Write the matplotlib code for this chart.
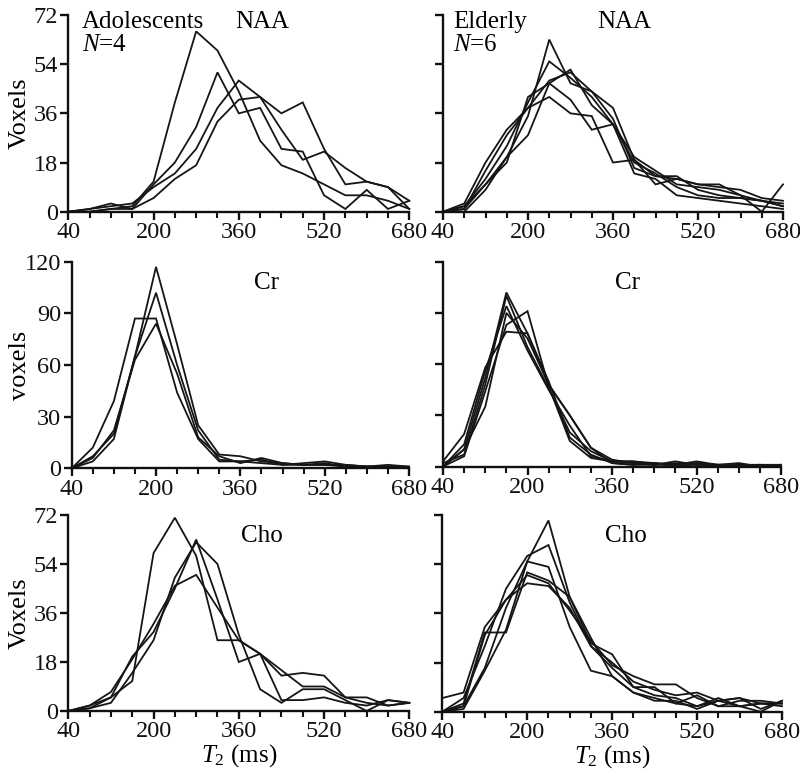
import matplotlib
matplotlib.use("Agg")
import matplotlib.pyplot as plt
from matplotlib.ticker import MultipleLocator, FixedLocator

plt.rcParams['font.family'] = ['Liberation Serif', 'DejaVu Serif']
plt.rcParams['mathtext.fontset'] = 'custom'
plt.rcParams['mathtext.rm'] = 'Liberation Serif'
plt.rcParams['mathtext.it'] = 'Liberation Serif:italic'

# T2 bins (ms)
t2 = [40, 80, 120, 160, 200, 240, 280, 320, 360, 400, 440, 480, 520, 560, 600, 640, 680]
x_major = [40, 200, 360, 520, 680]

# Adolescents NAA (N=4)
ado_naa_1 = [0, 0, 1, 2, 11, 40, 66, 59, 44, 26, 17, 14, 10, 6, 6, 4, 1]
ado_naa_2 = [0, 1, 3, 1, 10, 18, 31, 51, 36, 38, 23, 22, 6, 1, 8, 1, 4]
ado_naa_3 = [0, 1, 2, 3, 9, 14, 23, 38, 48, 42, 36, 40, 23, 10, 11, 9, 4]
ado_naa_4 = [0, 0, 1, 1, 5, 12, 17, 33, 41, 42, 30, 19, 22, 16, 11, 9, 1]

# Elderly NAA (N=6)
eld_naa_1 = [0, 1, 10, 20, 35, 63, 47, 44, 34, 16, 13, 12, 10, 9, 8, 5, 4]
eld_naa_2 = [0, 2, 12, 24, 40, 55, 49, 42, 32, 20, 15, 10, 9, 8, 6, 4, 2]
eld_naa_3 = [0, 1, 15, 28, 38, 48, 51, 44, 38, 19, 13, 13, 8, 6, 5, 4, 3]
eld_naa_4 = [0, 0, 8, 20, 28, 47, 52, 39, 32, 18, 14, 9, 6, 5, 5, 4, 2]
eld_naa_5 = [0, 3, 18, 30, 38, 42, 36, 35, 18, 19, 10, 12, 10, 10, 6, 0, 10]
eld_naa_6 = [0, 2, 10, 18, 42, 47, 41, 30, 32, 14, 12, 6, 5, 4, 3, 2, 1]

# Adolescents Cr
ado_cr_1 = [0, 7, 20, 65, 117, 72, 25, 8, 7, 4, 3, 2, 2, 1, 1, 1, 0]
ado_cr_2 = [0, 4, 17, 65, 102, 60, 22, 5, 4, 5, 2, 3, 4, 2, 1, 1, 1]
ado_cr_3 = [0, 12, 39, 87, 87, 44, 17, 4, 4, 3, 2, 2, 2, 2, 1, 1, 0]
ado_cr_4 = [0, 6, 22, 63, 84, 55, 18, 7, 3, 6, 3, 2, 3, 1, 1, 2, 1]

# Elderly Cr
eld_cr_1 = [0, 10, 52, 102, 78, 48, 30, 11, 4, 2, 2, 1, 2, 0, 1, 0, 0]
eld_cr_2 = [2, 7, 48, 100, 70, 46, 20, 9, 3, 3, 2, 1, 3, 1, 1, 1, 1]
eld_cr_3 = [0, 13, 56, 94, 68, 45, 24, 6, 3, 2, 1, 2, 1, 1, 2, 0, 0]
eld_cr_4 = [0, 6, 44, 83, 91, 47, 15, 5, 3, 3, 1, 3, 1, 1, 0, 1, 0]
eld_cr_5 = [3, 19, 58, 79, 78, 50, 17, 7, 2, 1, 2, 0, 2, 1, 1, 0, 1]
eld_cr_6 = [0, 10, 35, 90, 75, 48, 30, 11, 2, 1, 1, 1, 0, 0, 0, 1, 0]

# Adolescents Cho
ado_cho_1 = [0, 1, 5, 11, 58, 71, 57, 26, 26, 21, 13, 14, 13, 5, 5, 2, 3]
ado_cho_2 = [0, 1, 3, 14, 26, 49, 62, 54, 28, 8, 3, 8, 8, 4, 0, 4, 3]
ado_cho_3 = [0, 2, 5, 20, 29, 45, 63, 41, 18, 21, 4, 4, 5, 3, 2, 4, 3]
ado_cho_4 = [0, 2, 7, 19, 32, 46, 50, 38, 26, 21, 15, 9, 9, 5, 3, 2, 3]

# Elderly Cho
eld_cho_1 = [0, 2, 16, 38, 55, 70, 42, 27, 13, 7, 5, 3, 2, 5, 2, 3, 3]
eld_cho_2 = [0, 5, 24, 45, 57, 61, 40, 24, 18, 11, 8, 6, 7, 4, 5, 1, 4]
eld_cho_3 = [5, 7, 31, 41, 50, 47, 37, 26, 17, 13, 10, 10, 5, 2, 4, 4, 3]
eld_cho_4 = [0, 1, 15, 30, 55, 53, 31, 15, 13, 7, 4, 4, 1, 4, 2, 0, 4]
eld_cho_5 = [0, 3, 29, 29, 51, 48, 42, 25, 21, 9, 6, 5, 2, 4, 5, 3, 3]
eld_cho_6 = [0, 2, 28, 41, 47, 46, 38, 24, 16, 9, 9, 3, 6, 2, 2, 3, 2]

naa_yticks = [0, 18, 36, 54, 72]
cr_yticks = [0, 30, 60, 90, 120]

W, H = 800, 778
fig = plt.figure(figsize=(W / 100, H / 100), dpi=100)

def ax_at(x0, x1, ytop, ybot):
    return fig.add_axes([x0 / W, 1 - ybot / H, (x1 - x0) / W, (ybot - ytop) / H])

panels = [
    (ax_at(68.3, 409.3, 15, 211.7), [ado_naa_1, ado_naa_2, ado_naa_3, ado_naa_4], naa_yticks, True, 'NAA', 0.568, 0.966),
    (ax_at(443, 783, 15, 211.7), [eld_naa_1, eld_naa_2, eld_naa_3, eld_naa_4, eld_naa_5, eld_naa_6], naa_yticks, False, 'NAA', 0.534, 0.966),
    (ax_at(71.7, 409, 261.7, 468.3), [ado_cr_1, ado_cr_2, ado_cr_3, ado_cr_4], cr_yticks, True, 'Cr', 0.579, 0.897),
    (ax_at(443, 781, 261.7, 466.5), [eld_cr_1, eld_cr_2, eld_cr_3, eld_cr_4, eld_cr_5, eld_cr_6], cr_yticks, False, 'Cr', 0.546, 0.897),
    (ax_at(68.3, 409.3, 515, 711), [ado_cho_1, ado_cho_2, ado_cho_3, ado_cho_4], naa_yticks, True, 'Cho', 0.568, 0.893),
    (ax_at(442.3, 782, 515, 711.7), [eld_cho_1, eld_cho_2, eld_cho_3, eld_cho_4, eld_cho_5, eld_cho_6], naa_yticks, False, 'Cho', 0.54, 0.893),
]

ylabels = ['Voxels', None, 'voxels', None, 'Voxels', None]

for i, (ax, series, yt, show_ylab, name, tx, ty) in enumerate(panels):
    for s in series:
        ax.plot(t2, s, color='#151515', lw=1.3, clip_on=False, solid_joinstyle='miter')
    ax.set_xlim(40, 680)
    ax.set_ylim(yt[0], yt[-1])
    for sp in ['top', 'right']:
        ax.spines[sp].set_visible(False)
    for sp in ['left', 'bottom']:
        ax.spines[sp].set_linewidth(1.7)
        ax.spines[sp].set_color('#111111')
    ax.xaxis.set_major_locator(FixedLocator(x_major))
    ax.xaxis.set_minor_locator(MultipleLocator(40))
    ax.yaxis.set_major_locator(FixedLocator(yt))
    ax.tick_params(axis='both', which='major', direction='out', length=6, width=1.7,
                   labelsize=17.5, colors='#111111', pad=1.5)
    ax.tick_params(axis='x', which='minor', direction='out', length=4, width=1.5, colors='#111111')
    if not show_ylab:
        ax.set_yticklabels([])
    if ylabels[i]:
        ax.set_ylabel(ylabels[i], fontsize=19)
        bbox = ax.get_position()
        ax.yaxis.set_label_coords((31 / W - bbox.x0) / bbox.width, 0.5)
    ax.text(tx, ty, name, transform=ax.transAxes, fontsize=18, ha='center', va='center')
    if i >= 4:
        ax.set_xlabel(r'$T_{\mathit{2}}$ (ms)', fontsize=18, labelpad=0)

panels[0][0].text(0.04, 0.966, 'Adolescents', transform=panels[0][0].transAxes, fontsize=18, ha='left', va='center')
panels[0][0].text(0.04, 0.848, r'$N$=4', transform=panels[0][0].transAxes, fontsize=18, ha='left', va='center')
panels[1][0].text(0.03, 0.966, 'Elderly', transform=panels[1][0].transAxes, fontsize=18, ha='left', va='center')
panels[1][0].text(0.03, 0.848, r'$N$=6', transform=panels[1][0].transAxes, fontsize=18, ha='left', va='center')

fig.savefig('out.png', dpi=100)
